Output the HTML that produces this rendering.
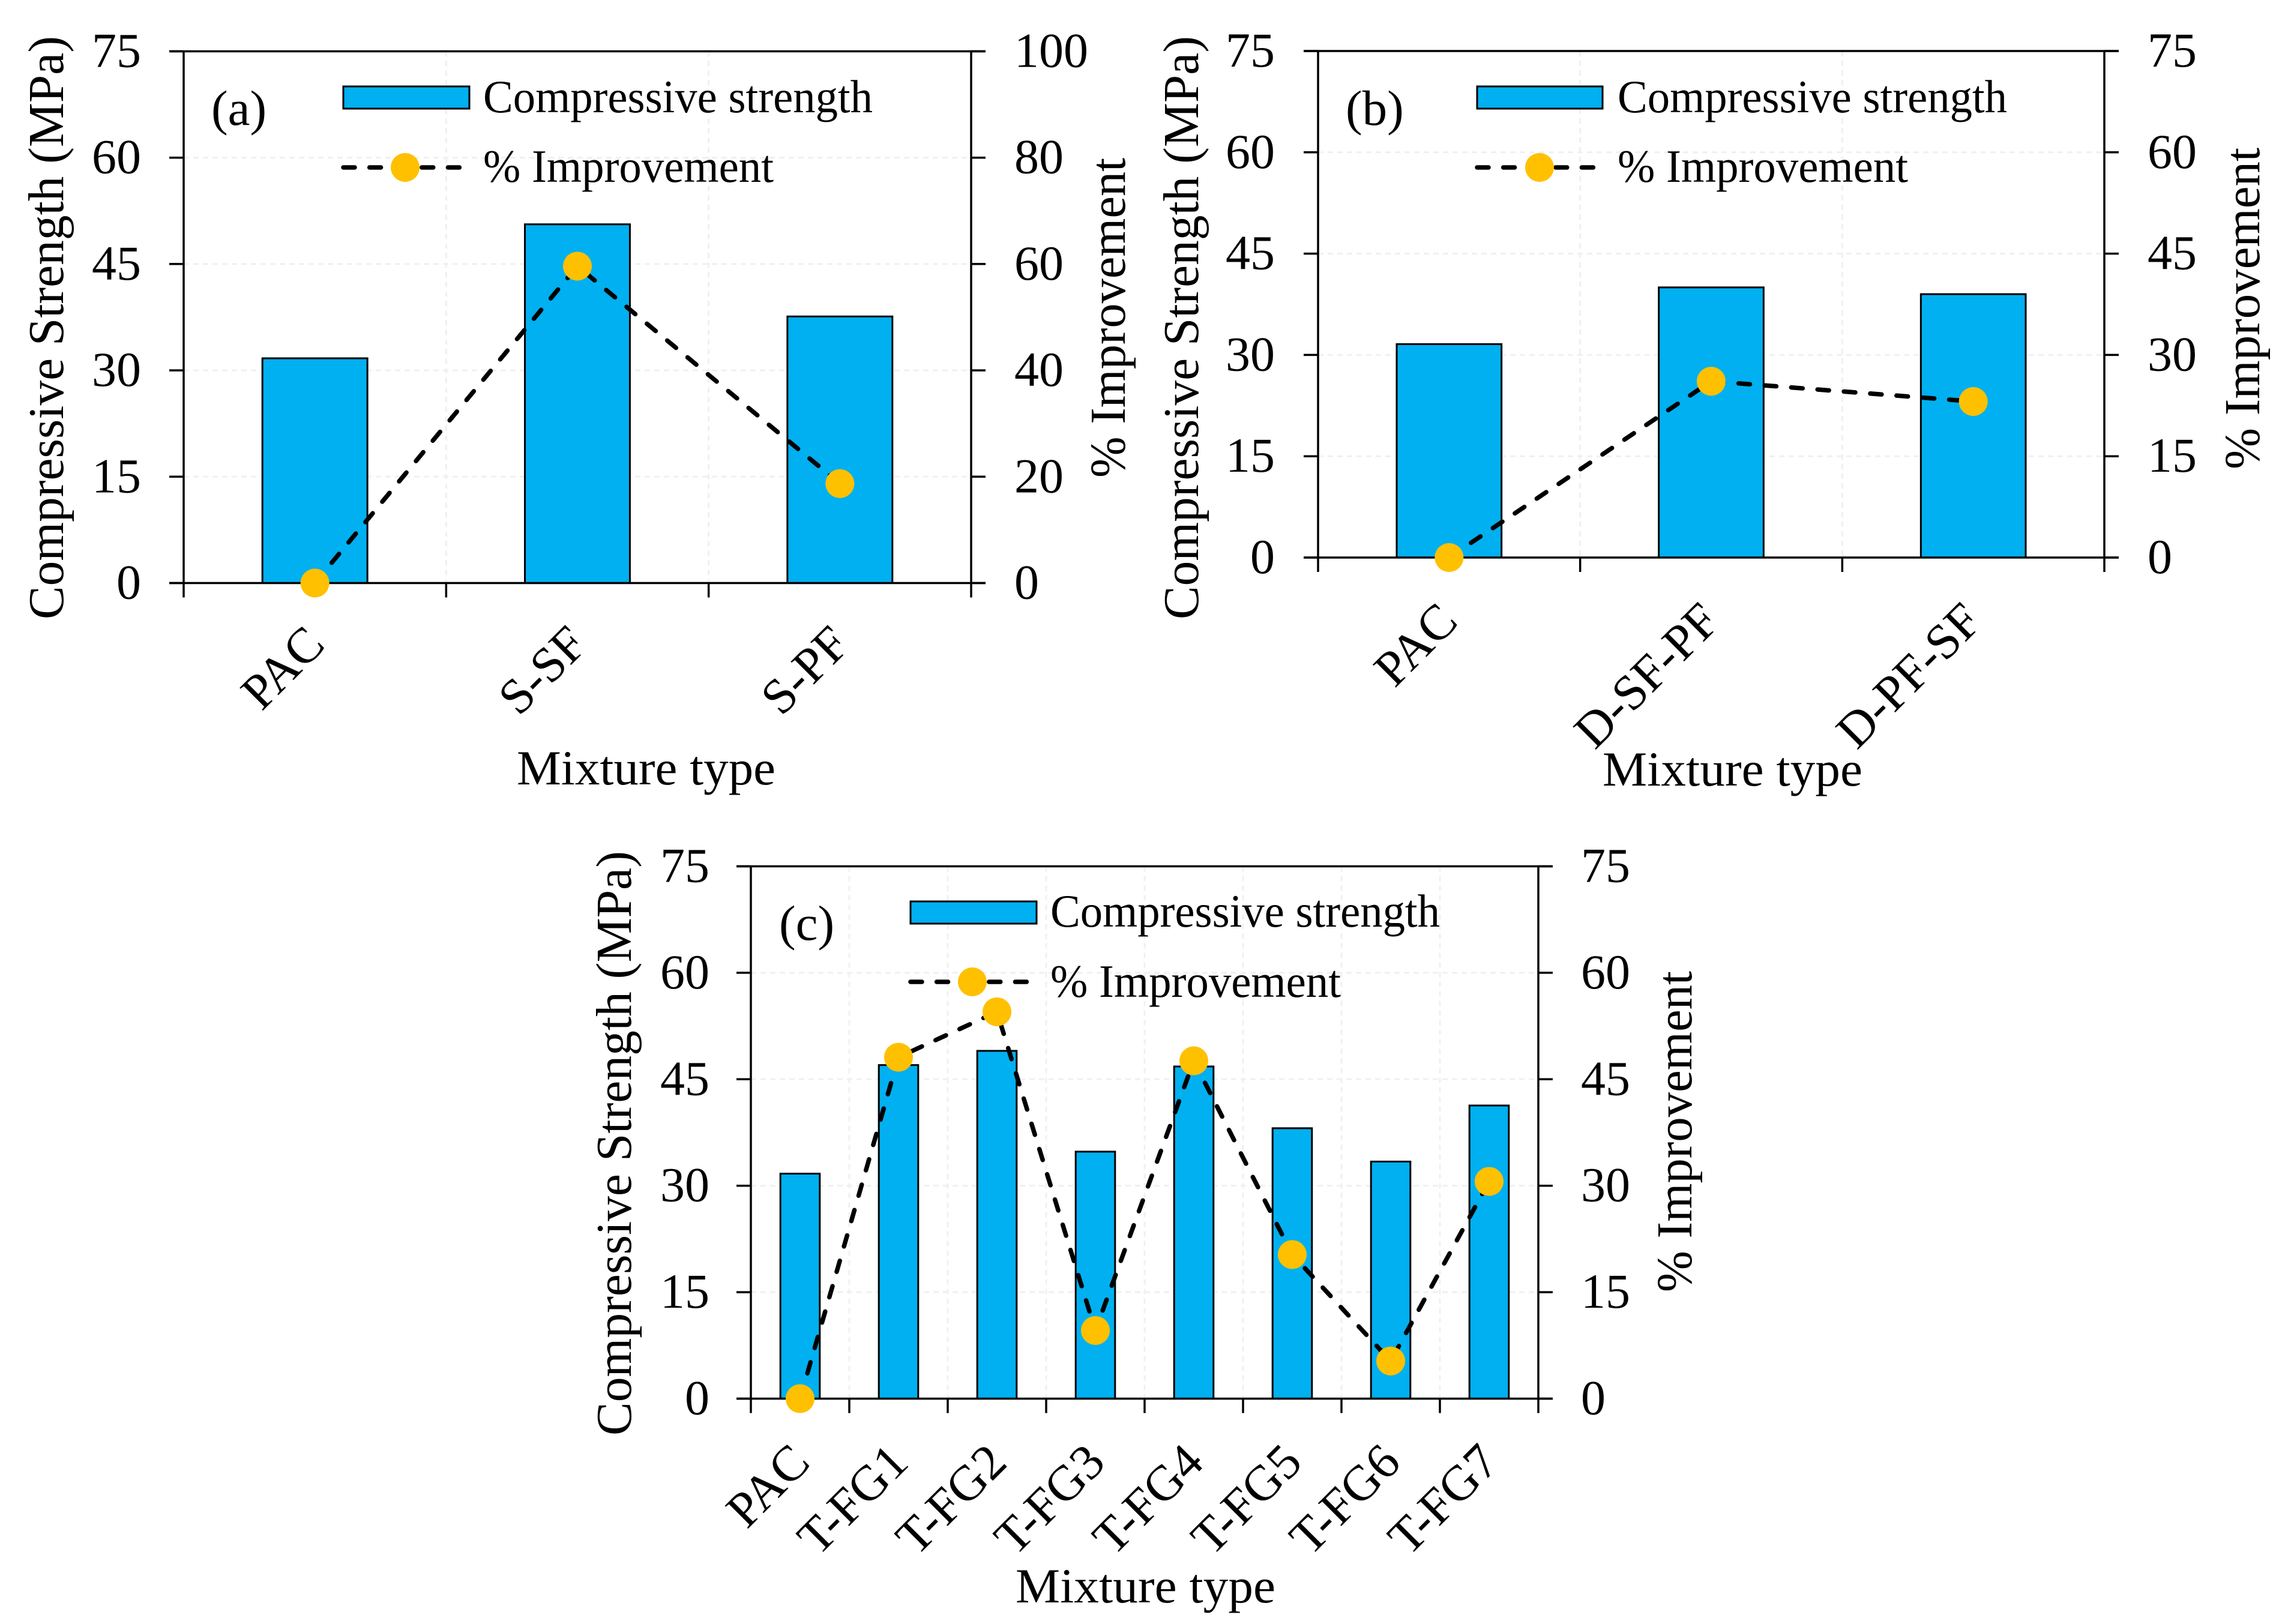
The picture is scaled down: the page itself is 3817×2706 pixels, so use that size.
<!DOCTYPE html>
<html lang="en">
<head>
<meta charset="utf-8">
<title>Compressive strength and % improvement by mixture type</title>
<style>
html,body{margin:0;padding:0;background:#fff;}
svg{display:block;}
text{font-family:"Liberation Serif",serif;fill:#000;}
</style>
</head>
<body>
<svg id="figure" xmlns="http://www.w3.org/2000/svg" width="3817" height="2706" viewBox="0 0 3817 2706">
<rect width="3817" height="2706" fill="#fff"/>
<g id="panel-a"></g>
<g id="panel-b"></g>
<g id="panel-c"></g>

<g>
<text x="352" y="208" font-size="83">(a)</text>
<text transform="translate(105,1032) rotate(-90)" font-size="84" textLength="972" lengthAdjust="spacingAndGlyphs">Compressive Strength (MPa)</text>
<text transform="translate(1874,796) rotate(-90)" font-size="84" textLength="533" lengthAdjust="spacingAndGlyphs">% Improvement</text>
<text x="861" y="1307" font-size="82" textLength="431" lengthAdjust="spacingAndGlyphs">Mixture type</text>
<g>
<rect x="572" y="144" width="210" height="37" fill="#00B0F0" stroke="#000" stroke-width="3"/>
<text x="805" y="187" font-size="77" textLength="649" lengthAdjust="spacingAndGlyphs">Compressive strength</text>
<line x1="572" y1="279" x2="766" y2="279" stroke="#000" stroke-width="7.5" stroke-dasharray="19 24.6" stroke-linecap="round"/>
<circle cx="675" cy="279" r="24" fill="#FFC000"/>
<text x="805" y="303" font-size="77" textLength="484" lengthAdjust="spacingAndGlyphs">% Improvement</text>
</g>
</g>

<g>
<text x="2242" y="208" font-size="83">(b)</text>
<text transform="translate(1996,1032) rotate(-90)" font-size="84" textLength="972" lengthAdjust="spacingAndGlyphs">Compressive Strength (MPa)</text>
<text transform="translate(3764,782) rotate(-90)" font-size="84" textLength="536" lengthAdjust="spacingAndGlyphs">% Improvement</text>
<text x="2670" y="1309" font-size="82" textLength="433" lengthAdjust="spacingAndGlyphs">Mixture type</text>
<g>
<rect x="2461" y="144" width="209" height="37" fill="#00B0F0" stroke="#000" stroke-width="3"/>
<text x="2695" y="187" font-size="77" textLength="649" lengthAdjust="spacingAndGlyphs">Compressive strength</text>
<line x1="2461" y1="279" x2="2655" y2="279" stroke="#000" stroke-width="7.5" stroke-dasharray="19 24.6" stroke-linecap="round"/>
<circle cx="2565" cy="279" r="24" fill="#FFC000"/>
<text x="2695" y="303" font-size="77" textLength="484" lengthAdjust="spacingAndGlyphs">% Improvement</text>
</g>
</g>

<g>
<text x="1298" y="1566" font-size="83">(c)</text>
<text transform="translate(1051,2392) rotate(-90)" font-size="84" textLength="974" lengthAdjust="spacingAndGlyphs">Compressive Strength (MPa)</text>
<text transform="translate(2818,2153) rotate(-90)" font-size="84" textLength="535" lengthAdjust="spacingAndGlyphs">% Improvement</text>
<text x="1692" y="2670" font-size="82" textLength="433" lengthAdjust="spacingAndGlyphs">Mixture type</text>
<g>
<rect x="1517" y="1502" width="210" height="37" fill="#00B0F0" stroke="#000" stroke-width="3"/>
<text x="1750" y="1544" font-size="77" textLength="649" lengthAdjust="spacingAndGlyphs">Compressive strength</text>
<line x1="1517" y1="1636" x2="1713" y2="1636" stroke="#000" stroke-width="7.5" stroke-dasharray="19 24.6" stroke-linecap="round"/>
<circle cx="1620" cy="1636" r="24" fill="#FFC000"/>
<text x="1750" y="1661" font-size="77" textLength="484" lengthAdjust="spacingAndGlyphs">% Improvement</text>
</g>
</g>
</svg>

<script>
// ---- Chart data ----
const categoriesA = ["PAC", "S-SF", "S-PF"];
const strengthA = [31.7, 50.6, 37.6];
const improvementA = [0, 59.6, 18.7];
const rightTicksA = [0, 20, 40, 60, 80, 100];

const categoriesB = ["PAC", "D-SF-PF", "D-PF-SF"];
const strengthB = [31.6, 40, 39];
const improvementB = [0, 26.1, 23.1];
const rightTicksB = [0, 15, 30, 45, 60, 75];

const categoriesC = ["PAC", "T-FG1", "T-FG2", "T-FG3", "T-FG4", "T-FG5", "T-FG6", "T-FG7"];
const strengthC = [31.7, 47, 49, 34.8, 46.8, 38.1, 33.4, 41.3];
const improvementC = [0, 48.1, 54.5, 9.6, 47.6, 20.3, 5.3, 30.6];
const rightTicksC = [0, 15, 30, 45, 60, 75];

const leftTicks = [0, 15, 30, 45, 60, 75];

// ---- Layout (pixels) ----
const SVGNS = "http://www.w3.org/2000/svg";
const layoutA = {id:"a", left:306, right:1618, top:85.5, bottom:971.5, leftLabelX:235, rightLabelX:1690, xLabelDX:20, xLabelDY:106, rightMax:100};
const layoutB = {id:"b", left:2196, right:3506, top:85, bottom:929, leftLabelX:2124, rightLabelX:3578, xLabelDX:18, xLabelDY:110, rightMax:75};
const layoutC = {id:"c", left:1251, right:2563, top:1443.5, bottom:2330.5, leftLabelX:1182, rightLabelX:2634, xLabelDX:20, xLabelDY:110, rightMax:75};

function shape(tag, parent, attrs) {
  const el = document.createElementNS(SVGNS, tag);
  for (const k in attrs) el.setAttribute(k, attrs[k]);
  parent.appendChild(el);
  return el;
}

function drawPanel(layout, categories, strength, improvement, rightTicks) {
  const root = document.getElementById("panel-" + layout.id);
  const band = (layout.right - layout.left) / categories.length;
  const xBand = i => layout.left + band * i;
  const xCenter = i => xBand(i) + band / 2;
  const yLeft = v => layout.bottom - (v / 75) * (layout.bottom - layout.top);
  const yRight = v => layout.bottom - (v / layout.rightMax) * (layout.bottom - layout.top);
  const tickLen = 24;
  const barWidth = band * 0.4;

  // gridlines
  leftTicks.forEach(function (t) {
    if (t === 0 || t === 75) return;
    const g = shape("line", root, {x1: layout.left, x2: layout.right, y1: yLeft(t), y2: yLeft(t), stroke: "#f0f0f0", "stroke-width": 3, "stroke-dasharray": "9 7"});
    
    
  });
  categories.forEach(function (c, i) {
    if (i === 0) return;
    const g = shape("line", root, {x1: xBand(i), x2: xBand(i), y1: layout.top, y2: layout.bottom, stroke: "#f0f0f0", "stroke-width": 3, "stroke-dasharray": "9 7"});
    
    
  });

  // bars
  strength.forEach(function (v, i) {
    const b = shape("rect", root, {x: xCenter(i) - barWidth / 2, y: yLeft(v), width: barWidth, height: layout.bottom - yLeft(v), fill: "#00B0F0", stroke: "#000", "stroke-width": 3});
    
    
  });

  // axes frame
  const frame = [
    [layout.left - tickLen, layout.top, layout.right + tickLen, layout.top, "axis-top"],
    [layout.left - tickLen, layout.bottom, layout.right + tickLen, layout.bottom, "axis-bottom"],
    [layout.left, layout.top, layout.left, layout.bottom + tickLen, "axis-left"],
    [layout.right, layout.top, layout.right, layout.bottom + tickLen, "axis-right"]
  ];
  frame.forEach(function (f) {
    const a = shape("line", root, {x1: f[0], y1: f[1], x2: f[2], y2: f[3], stroke: "#000", "stroke-width": 3.5});
    
    
  });

  // left ticks & labels
  leftTicks.forEach(function (t) {
    const y = yLeft(t);
    const m = shape("line", root, {x1: layout.left - tickLen, x2: layout.left, y1: y, y2: y, stroke: "#000", "stroke-width": 3.5});
    
    
    const l = shape("text", root, {x: layout.leftLabelX, y: y + 26, "text-anchor": "end", "font-size": 82});
    l.textContent = t;
    
    
  });

  // right ticks & labels
  rightTicks.forEach(function (t) {
    const y = yRight(t);
    const m = shape("line", root, {x1: layout.right, x2: layout.right + tickLen, y1: y, y2: y, stroke: "#000", "stroke-width": 3.5});
    
    
    const l = shape("text", root, {x: layout.rightLabelX, y: y + 26, "font-size": 82});
    l.textContent = t;
    
    
  });

  // x ticks & labels
  for (let i = 1; i < categories.length; i++) {
    const m = shape("line", root, {x1: xBand(i), x2: xBand(i), y1: layout.bottom, y2: layout.bottom + tickLen, stroke: "#000", "stroke-width": 3.5});
    
    
  }
  categories.forEach(function (c, i) {
    const px = xCenter(i) + layout.xLabelDX;
    const py = layout.bottom + layout.xLabelDY;
    const l = shape("text", root, {transform: "translate(" + px + "," + py + ") rotate(-45)", "text-anchor": "end", "font-size": 83});
    l.textContent = c;
    
    
  });

  // improvement line + markers
  const pts = improvement.map(function (v, i) { return xCenter(i) + "," + yRight(v); }).join(" ");
  const line = shape("polyline", root, {points: pts, fill: "none", stroke: "#000", "stroke-width": 7.5, "stroke-dasharray": "19 25", "stroke-linecap": "round"});
  
  
  improvement.forEach(function (v, i) {
    const p = shape("circle", root, {cx: xCenter(i), cy: yRight(v), r: 24, fill: "#FFC000"});
    
    
  });
}

drawPanel(layoutA, categoriesA, strengthA, improvementA, rightTicksA);
drawPanel(layoutB, categoriesB, strengthB, improvementB, rightTicksB);
drawPanel(layoutC, categoriesC, strengthC, improvementC, rightTicksC);
</script>
</body>
</html>
